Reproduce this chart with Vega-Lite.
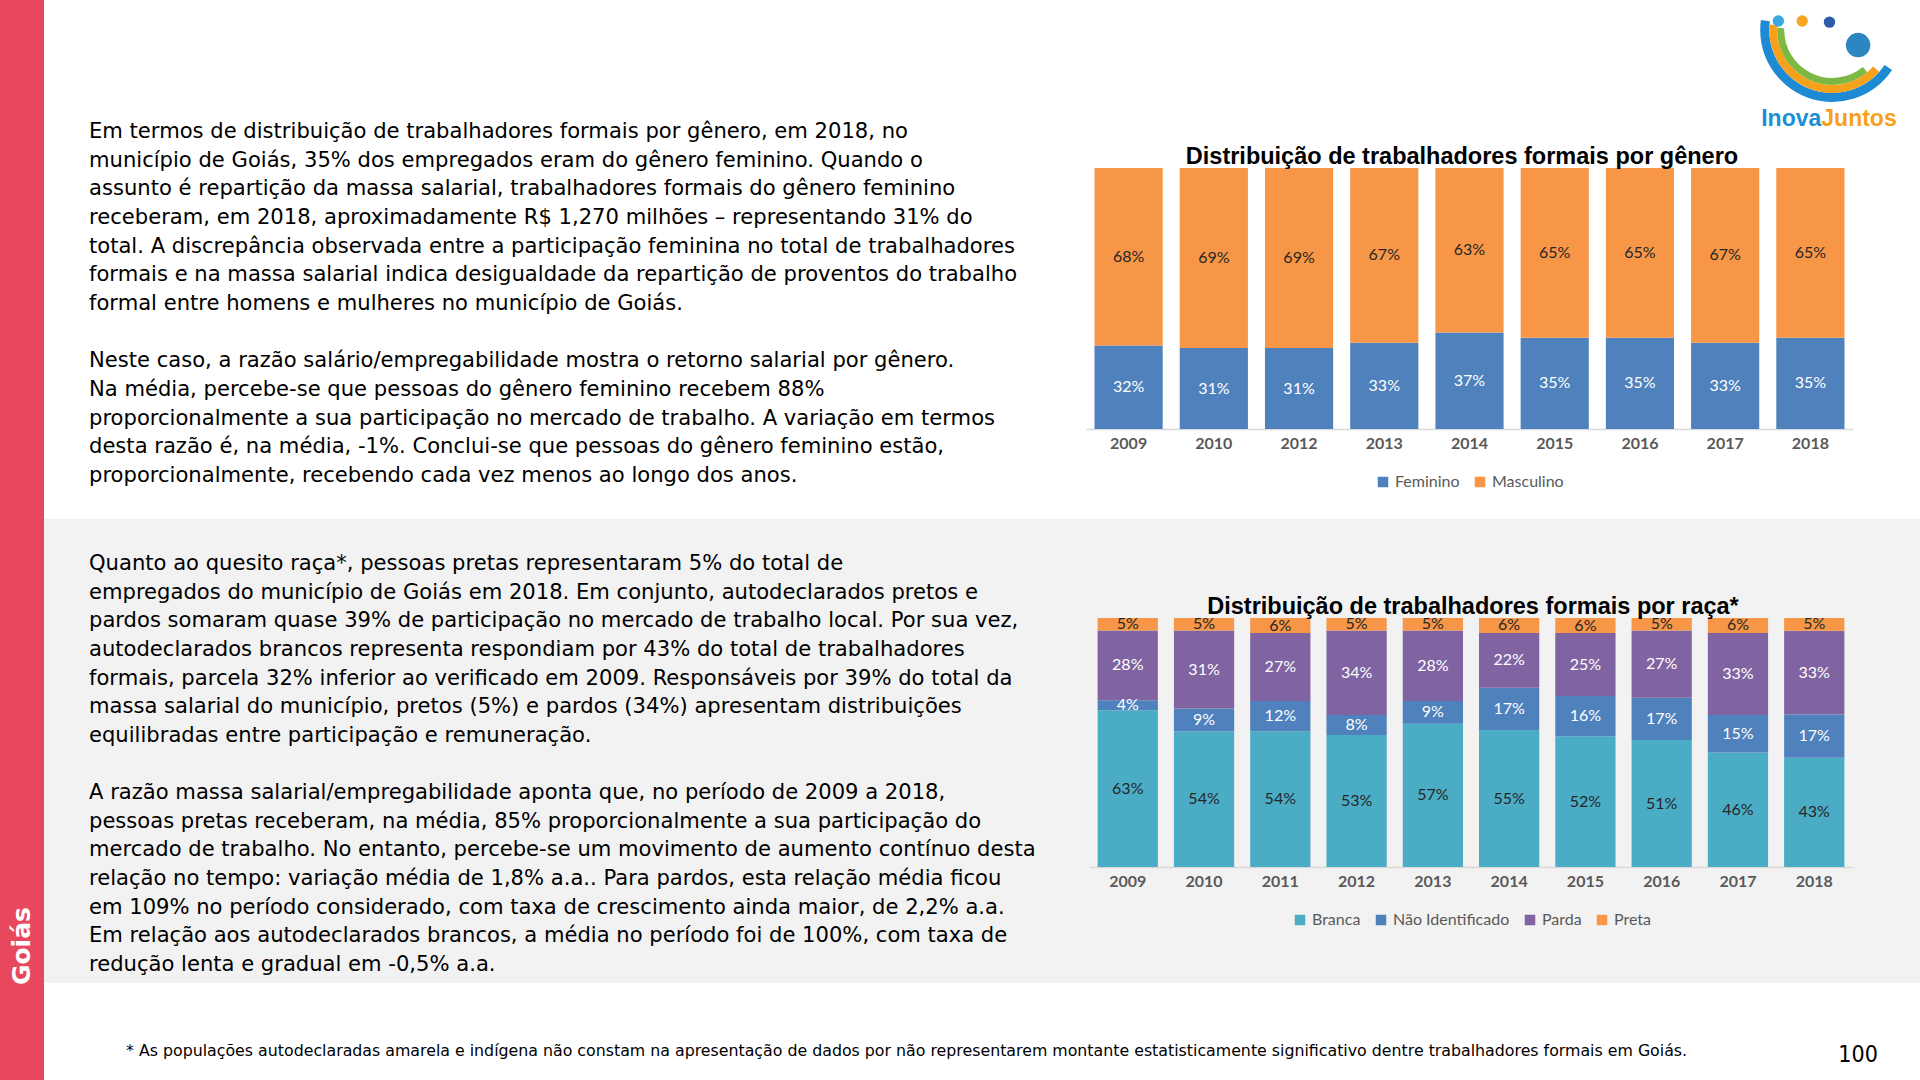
{
  "$schema": "https://vega.github.io/schema/vega-lite/v6.json",
  "padding": 0,
  "background": "white",
  "spacing": 0,
  "config": {
    "view": {"stroke": null},
    "concat": {"spacing": 0},
    "axis": {"grid": false}
  },
  "resolve": {"scale": {"color": "independent"}, "legend": {"color": "independent"}},
  "hconcat": [
    {
      "width": 44,
      "height": 1080,
      "view": {"fill": "#E8485E"},
      "data": {"values": [{"t": "Goiás"}]},
      "mark": {"type": "text", "angle": 270, "font": "DejaVu Sans", "fontWeight": "bold", "fontSize": 25, "color": "white", "align": "center", "baseline": "middle"},
      "encoding": {
        "text": {"field": "t"},
        "y": {"datum": 0.876, "type": "quantitative", "scale": {"domain": [0, 1], "reverse": true}, "axis": null}
      }
    },
    {
      "spacing": 0,
      "resolve": {"scale": {"color": "independent"}, "legend": {"color": "independent"}},
      "vconcat": [
        {
          "spacing": 0,
          "hconcat": [
            {
              "width": 1042,
              "height": 519,
              "data": {"values": [
                {"linha": 0, "texto": "\u2003\u2003\u2002Em termos de distribuição de trabalhadores formais por gênero, em 2018, no"},
                {"linha": 1, "texto": "município de Goiás, 35% dos empregados eram do gênero feminino. Quando o"},
                {"linha": 2, "texto": "assunto é repartição da massa salarial, trabalhadores formais do gênero feminino"},
                {"linha": 3, "texto": "receberam, em 2018, aproximadamente R$ 1,270 milhões – representando 31% do"},
                {"linha": 4, "texto": "total. A discrepância observada entre a participação feminina no total de trabalhadores"},
                {"linha": 5, "texto": "formais e na massa salarial indica desigualdade da repartição de proventos do trabalho"},
                {"linha": 6, "texto": "formal entre homens e mulheres no município de Goiás."},
                {"linha": 8, "texto": "\u2003\u2003\u2002Neste caso, a razão salário/empregabilidade mostra o retorno salarial por gênero."},
                {"linha": 9, "texto": "Na média, percebe-se que pessoas do gênero feminino recebem 88%"},
                {"linha": 10, "texto": "proporcionalmente a sua participação no mercado de trabalho. A variação em termos"},
                {"linha": 11, "texto": "desta razão é, na média, -1%. Conclui-se que pessoas do gênero feminino estão,"},
                {"linha": 12, "texto": "proporcionalmente, recebendo cada vez menos ao longo dos anos."}
              ]},
              "mark": {"type": "text", "align": "left", "baseline": "middle", "font": "DejaVu Sans", "fontSize": 21.1, "color": "#000000"},
              "encoding": {
                "x": {"datum": 0, "type": "quantitative", "scale": {"domain": [0, 1], "range": [45, 1042]}, "axis": null},
                "y": {"field": "linha", "type": "quantitative", "scale": {"domain": [0, 12], "range": [132, 476]}, "axis": null},
                "text": {"field": "texto"}
              }
            },
            {
              "width": 834,
              "height": 519,
              "view": {"fill": "white"},
              "title": {"text": "Distribuição de trabalhadores formais por gênero", "font": "Liberation Sans", "fontSize": 23.5, "fontWeight": "bold", "color": "#000000", "anchor": "middle", "frame": "group", "offset": -168, "dx": -41},
              "layer": [
                {
                  "data": {"values": [
                    {"ano": 2009, "genero": "Feminino", "valor": 0.32}, {"ano": 2009, "genero": "Masculino", "valor": 0.68},
                    {"ano": 2010, "genero": "Feminino", "valor": 0.31}, {"ano": 2010, "genero": "Masculino", "valor": 0.69},
                    {"ano": 2012, "genero": "Feminino", "valor": 0.31}, {"ano": 2012, "genero": "Masculino", "valor": 0.69},
                    {"ano": 2013, "genero": "Feminino", "valor": 0.33}, {"ano": 2013, "genero": "Masculino", "valor": 0.67},
                    {"ano": 2014, "genero": "Feminino", "valor": 0.37}, {"ano": 2014, "genero": "Masculino", "valor": 0.63},
                    {"ano": 2015, "genero": "Feminino", "valor": 0.35}, {"ano": 2015, "genero": "Masculino", "valor": 0.65},
                    {"ano": 2016, "genero": "Feminino", "valor": 0.35}, {"ano": 2016, "genero": "Masculino", "valor": 0.65},
                    {"ano": 2017, "genero": "Feminino", "valor": 0.33}, {"ano": 2017, "genero": "Masculino", "valor": 0.67},
                    {"ano": 2018, "genero": "Feminino", "valor": 0.35}, {"ano": 2018, "genero": "Masculino", "valor": 0.65}
                  ]},
                  "transform": [
                    {"stack": "valor", "groupby": ["ano"], "sort": [{"field": "genero"}], "offset": "normalize", "as": ["v0", "v1"]},
                    {"calculate": "(datum.v0 + datum.v1) / 2", "as": "vm"}
                  ],
                  "layer": [
                    {
                      "mark": {"type": "bar"},
                      "encoding": {
                        "x": {"field": "ano", "type": "ordinal", "scale": {"range": [0, 767], "paddingInner": 0.2, "paddingOuter": 0.1},
                              "axis": {"offset": -90, "domainColor": "#D9D9D9", "domainWidth": 1.5, "ticks": false, "labelFont": "Lato", "labelFontWeight": "bold", "labelFontSize": 16, "labelColor": "#595959", "labelPadding": 6, "title": null, "labelAngle": 0}},
                        "y": {"field": "v0", "type": "quantitative", "scale": {"domain": [0, 1], "range": [429, 168]}, "axis": null},
                        "y2": {"field": "v1"},
                        "color": {"field": "genero", "type": "nominal", "scale": {"domain": ["Feminino", "Masculino"], "range": ["#4F81BD", "#F79646"]},
                                  "legend": {"orient": "none", "legendX": 1331, "legendY": 474, "direction": "horizontal", "title": null, "symbolType": "square", "symbolSize": 110, "symbolStrokeWidth": 0, "labelFont": "Lato", "labelFontSize": 16, "labelColor": "#595959", "columnPadding": 12}}
                      }
                    },
                    {
                      "mark": {"type": "text", "font": "Lato", "fontSize": 16, "baseline": "middle"},
                      "encoding": {
                        "x": {"field": "ano", "type": "ordinal"},
                        "y": {"field": "vm", "type": "quantitative"},
                        "text": {"field": "valor", "format": ".0%"},
                        "color": {"condition": {"test": "datum.genero === 'Feminino'", "value": "white"}, "value": "#262626"}
                      }
                    }
                  ]
                },
                {
                  "data": {"values": [{"parte": "azul"}]},
                  "mark": {"type": "arc", "radius": 72, "radius2": 63, "theta": 2.16, "theta2": 4.85, "color": "#1E8AD3"},
                  "encoding": {
                    "x": {"datum": 2018, "type": "ordinal", "bandPosition": 0.82},
                    "y": {"datum": 1.529, "type": "quantitative"}
                  }
                },
                {
                  "data": {"values": [{"parte": "laranja"}]},
                  "mark": {"type": "arc", "radius": 63, "radius2": 55, "theta": 2.3, "theta2": 4.8, "color": "#F5A11C"},
                  "encoding": {
                    "x": {"datum": 2018, "type": "ordinal", "bandPosition": 0.82},
                    "y": {"datum": 1.529, "type": "quantitative"}
                  }
                },
                {
                  "data": {"values": [{"parte": "verde"}]},
                  "mark": {"type": "arc", "radius": 55, "radius2": 48, "theta": 2.45, "theta2": 4.75, "color": "#7DB843"},
                  "encoding": {
                    "x": {"datum": 2018, "type": "ordinal", "bandPosition": 0.82},
                    "y": {"datum": 1.529, "type": "quantitative"}
                  }
                },
                {
                  "data": {"values": [{"pessoa": "a"}]},
                  "mark": {"type": "circle", "size": 130, "opacity": 1, "color": "#3BA7E0"},
                  "encoding": {
                    "x": {"datum": 2018, "type": "ordinal", "bandPosition": 0.03},
                    "y": {"datum": 1.563, "type": "quantitative"}
                  }
                },
                {
                  "data": {"values": [{"pessoa": "b"}]},
                  "mark": {"type": "circle", "size": 130, "opacity": 1, "color": "#F6A623"},
                  "encoding": {
                    "x": {"datum": 2018, "type": "ordinal", "bandPosition": 0.38},
                    "y": {"datum": 1.563, "type": "quantitative"}
                  }
                },
                {
                  "data": {"values": [{"pessoa": "c"}]},
                  "mark": {"type": "circle", "size": 130, "opacity": 1, "color": "#2D5DA8"},
                  "encoding": {
                    "x": {"datum": 2018, "type": "ordinal", "bandPosition": 0.78},
                    "y": {"datum": 1.559, "type": "quantitative"}
                  }
                },
                {
                  "data": {"values": [{"parte": "globo"}]},
                  "mark": {"type": "circle", "size": 600, "opacity": 1, "color": "#2E86C1"},
                  "encoding": {
                    "x": {"datum": 2018, "type": "ordinal", "bandPosition": 1.2},
                    "y": {"datum": 1.471, "type": "quantitative"}
                  }
                },
                {
                  "data": {"values": [{"t": "Inova"}]},
                  "mark": {"type": "text", "align": "right", "baseline": "middle", "font": "Liberation Sans", "fontWeight": "bold", "fontSize": 23, "color": "#1C8FD6"},
                  "encoding": {
                    "x": {"datum": 2018, "type": "ordinal", "bandPosition": 0.66},
                    "y": {"datum": 1.188, "type": "quantitative"},
                    "text": {"field": "t"}
                  }
                },
                {
                  "data": {"values": [{"t": "Juntos"}]},
                  "mark": {"type": "text", "align": "left", "baseline": "middle", "font": "Liberation Sans", "fontWeight": "bold", "fontSize": 23, "color": "#F5A11C"},
                  "encoding": {
                    "x": {"datum": 2018, "type": "ordinal", "bandPosition": 0.66},
                    "y": {"datum": 1.188, "type": "quantitative"},
                    "text": {"field": "t"}
                  }
                }
              ]
            }
          ]
        },
        {
          "spacing": 0,
          "hconcat": [
            {
              "width": 1042,
              "height": 464,
              "view": {"fill": "#F2F2F2"},
              "data": {"values": [
                {"linha": 0, "texto": "\u2003\u2003\u2002Quanto ao quesito raça*, pessoas pretas representaram 5% do total de"},
                {"linha": 1, "texto": "empregados do município de Goiás em 2018. Em conjunto, autodeclarados pretos e"},
                {"linha": 2, "texto": "pardos somaram quase 39% de participação no mercado de trabalho local. Por sua vez,"},
                {"linha": 3, "texto": "autodeclarados brancos representa respondiam por 43% do total de trabalhadores"},
                {"linha": 4, "texto": "formais, parcela 32% inferior ao verificado em 2009. Responsáveis por 39% do total da"},
                {"linha": 5, "texto": "massa salarial do município, pretos (5%) e pardos (34%) apresentam distribuições"},
                {"linha": 6, "texto": "equilibradas entre participação e remuneração."},
                {"linha": 8, "texto": "\u2003\u2003\u2002A razão massa salarial/empregabilidade aponta que, no período de 2009 a 2018,"},
                {"linha": 9, "texto": "pessoas pretas receberam, na média, 85% proporcionalmente a sua participação do"},
                {"linha": 10, "texto": "mercado de trabalho. No entanto, percebe-se um movimento de aumento contínuo desta"},
                {"linha": 11, "texto": "relação no tempo: variação média de 1,8% a.a.. Para pardos, esta relação média ficou"},
                {"linha": 12, "texto": "em 109% no período considerado, com taxa de crescimento ainda maior, de 2,2% a.a."},
                {"linha": 13, "texto": "Em relação aos autodeclarados brancos, a média no período foi de 100%, com taxa de"},
                {"linha": 14, "texto": "redução lenta e gradual em -0,5% a.a."}
              ]},
              "mark": {"type": "text", "align": "left", "baseline": "middle", "font": "DejaVu Sans", "fontSize": 21.1, "color": "#000000"},
              "encoding": {
                "x": {"datum": 0, "type": "quantitative", "scale": {"domain": [0, 1], "range": [45, 1042]}, "axis": null},
                "y": {"field": "linha", "type": "quantitative", "scale": {"domain": [0, 14], "range": [45, 446]}, "axis": null},
                "text": {"field": "texto"}
              }
            },
            {
              "width": 834,
              "height": 464,
              "view": {"fill": "#F2F2F2"},
              "title": {"text": "Distribuição de trabalhadores formais por raça*", "font": "Liberation Sans", "fontSize": 23.5, "fontWeight": "bold", "color": "#000000", "anchor": "middle", "frame": "group", "offset": -99, "dx": -30},
              "data": {"values": [
                {"ano": 2009, "raca": "Branca", "valor": 0.63}, {"ano": 2009, "raca": "Não Identificado", "valor": 0.04}, {"ano": 2009, "raca": "Parda", "valor": 0.28}, {"ano": 2009, "raca": "Preta", "valor": 0.05},
                {"ano": 2010, "raca": "Branca", "valor": 0.54}, {"ano": 2010, "raca": "Não Identificado", "valor": 0.09}, {"ano": 2010, "raca": "Parda", "valor": 0.31}, {"ano": 2010, "raca": "Preta", "valor": 0.05},
                {"ano": 2011, "raca": "Branca", "valor": 0.54}, {"ano": 2011, "raca": "Não Identificado", "valor": 0.12}, {"ano": 2011, "raca": "Parda", "valor": 0.27}, {"ano": 2011, "raca": "Preta", "valor": 0.06},
                {"ano": 2012, "raca": "Branca", "valor": 0.53}, {"ano": 2012, "raca": "Não Identificado", "valor": 0.08}, {"ano": 2012, "raca": "Parda", "valor": 0.34}, {"ano": 2012, "raca": "Preta", "valor": 0.05},
                {"ano": 2013, "raca": "Branca", "valor": 0.57}, {"ano": 2013, "raca": "Não Identificado", "valor": 0.09}, {"ano": 2013, "raca": "Parda", "valor": 0.28}, {"ano": 2013, "raca": "Preta", "valor": 0.05},
                {"ano": 2014, "raca": "Branca", "valor": 0.55}, {"ano": 2014, "raca": "Não Identificado", "valor": 0.17}, {"ano": 2014, "raca": "Parda", "valor": 0.22}, {"ano": 2014, "raca": "Preta", "valor": 0.06},
                {"ano": 2015, "raca": "Branca", "valor": 0.52}, {"ano": 2015, "raca": "Não Identificado", "valor": 0.16}, {"ano": 2015, "raca": "Parda", "valor": 0.25}, {"ano": 2015, "raca": "Preta", "valor": 0.06},
                {"ano": 2016, "raca": "Branca", "valor": 0.51}, {"ano": 2016, "raca": "Não Identificado", "valor": 0.17}, {"ano": 2016, "raca": "Parda", "valor": 0.27}, {"ano": 2016, "raca": "Preta", "valor": 0.05},
                {"ano": 2017, "raca": "Branca", "valor": 0.46}, {"ano": 2017, "raca": "Não Identificado", "valor": 0.15}, {"ano": 2017, "raca": "Parda", "valor": 0.33}, {"ano": 2017, "raca": "Preta", "valor": 0.06},
                {"ano": 2018, "raca": "Branca", "valor": 0.43}, {"ano": 2018, "raca": "Não Identificado", "valor": 0.17}, {"ano": 2018, "raca": "Parda", "valor": 0.33}, {"ano": 2018, "raca": "Preta", "valor": 0.05}
              ]},
              "transform": [
                {"stack": "valor", "groupby": ["ano"], "sort": [{"field": "raca"}], "offset": "normalize", "as": ["v0", "v1"]},
                {"calculate": "(datum.v0 + datum.v1) / 2", "as": "vm"}
              ],
              "layer": [
                {
                  "mark": {"type": "bar"},
                  "encoding": {
                    "x": {"field": "ano", "type": "ordinal", "scale": {"range": [4, 766], "paddingInner": 0.21, "paddingOuter": 0.1},
                          "axis": {"offset": -116, "domainColor": "#D9D9D9", "domainWidth": 1.5, "ticks": false, "labelFont": "Lato", "labelFontWeight": "bold", "labelFontSize": 16, "labelColor": "#595959", "labelPadding": 6, "title": null, "labelAngle": 0}},
                    "y": {"field": "v0", "type": "quantitative", "scale": {"domain": [0, 1], "range": [348, 99]}, "axis": null},
                    "y2": {"field": "v1"},
                    "color": {"field": "raca", "type": "nominal", "scale": {"domain": ["Branca", "Não Identificado", "Parda", "Preta"], "range": ["#4BACC6", "#4F81BD", "#8064A2", "#F79646"]},
                              "legend": {"orient": "none", "legendX": 1248, "legendY": 393, "direction": "horizontal", "title": null, "symbolType": "square", "symbolSize": 110, "symbolStrokeWidth": 0, "labelFont": "Lato", "labelFontSize": 16, "labelColor": "#595959", "columnPadding": 12}}
                  }
                },
                {
                  "mark": {"type": "text", "font": "Lato", "fontSize": 16, "baseline": "middle"},
                  "encoding": {
                    "x": {"field": "ano", "type": "ordinal"},
                    "y": {"field": "vm", "type": "quantitative"},
                    "text": {"field": "valor", "format": ".0%"},
                    "color": {"condition": {"test": "datum.raca === 'Parda' || datum.raca === 'Não Identificado'", "value": "white"}, "value": "#262626"}
                  }
                }
              ]
            }
          ]
        },
        {
          "width": 1876,
          "height": 97,
          "layer": [
            {
              "data": {"values": [{"t": "* As populações autodeclaradas amarela e indígena não constam na apresentação de dados por não representarem montante estatisticamente significativo dentre trabalhadores formais em Goiás."}]},
              "mark": {"type": "text", "align": "left", "baseline": "middle", "font": "DejaVu Sans", "fontSize": 15.8, "color": "#000000"},
              "encoding": {
                "x": {"datum": 0.0437, "type": "quantitative", "scale": {"domain": [0, 1]}, "axis": null},
                "y": {"datum": 0.70, "type": "quantitative", "scale": {"domain": [0, 1], "reverse": true}, "axis": null},
                "text": {"field": "t"}
              }
            },
            {
              "data": {"values": [{"t": "100"}]},
              "mark": {"type": "text", "align": "center", "baseline": "middle", "font": "DejaVu Sans Condensed", "fontSize": 23, "color": "#000000"},
              "encoding": {
                "x": {"datum": 0.967, "type": "quantitative"},
                "y": {"datum": 0.742, "type": "quantitative"},
                "text": {"field": "t"}
              }
            }
          ]
        }
      ]
    }
  ]
}
